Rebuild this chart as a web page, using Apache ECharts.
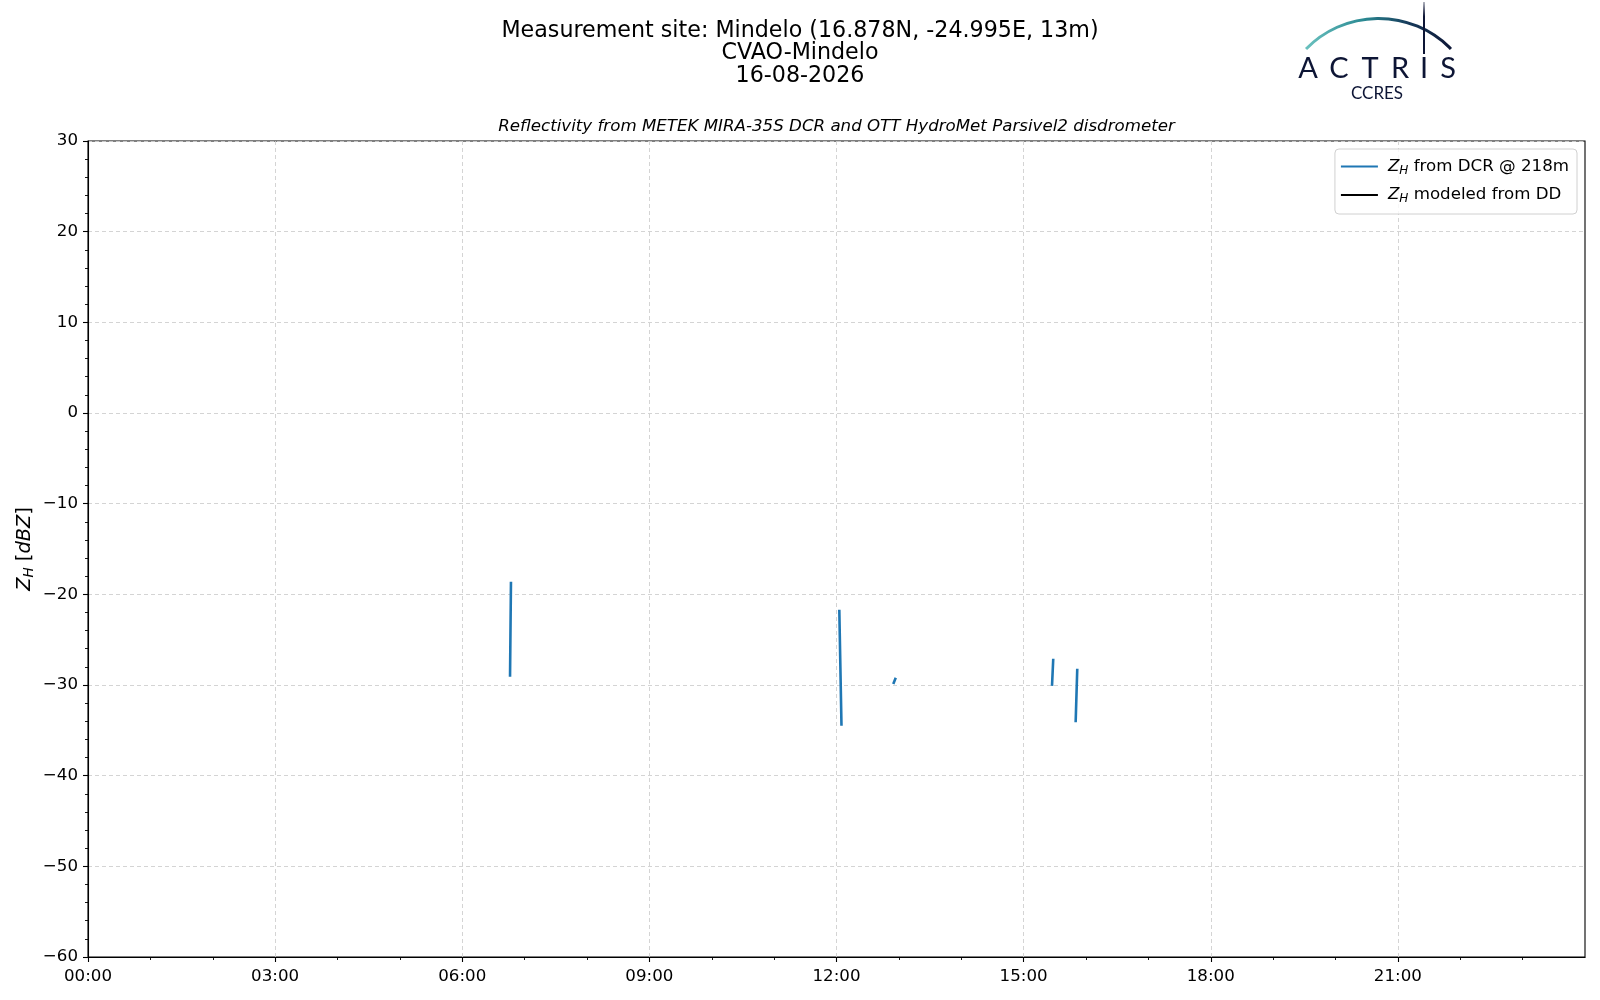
<!DOCTYPE html>
<html>
<head>
<meta charset="utf-8">
<script src="https://cdn.jsdelivr.net/npm/echarts@6/dist/echarts.min.js"></script>
<style>html,body{margin:0;padding:0;background:#fff}#c{width:1600px;height:1000px}</style>
</head>
<body>
<div id="c"></div>
<script>
// ---- data (time in hours of day, reflectivity in dBZ; null = gap) ----
const dcrTime = [6.766, 6.781, 6.79, 12.045, 12.08, 12.09, 12.91, 12.95, 12.96, 15.455, 15.475, 15.48, 15.834, 15.86];
const dcrZh   = [-29.1, -18.6, null, -21.7, -34.5, null, -29.9, -29.2, null, -30.1, -27.1, null, -34.1, -28.2];
const ddTime = [];
const ddZh = [];
const xTicks = [0, 3, 6, 9, 12, 15, 18, 21];
const yTicks = [-60, -50, -40, -30, -20, -10, 0, 10, 20, 30];
const seriesNames = ['Z_H from DCR @ 218m', 'Z_H modeled from DD'];
const titleLines = ['Measurement site: Mindelo (16.878N, -24.995E, 13m)', 'CVAO-Mindelo', '16-08-2026'];
const subtitle = 'Reflectivity from METEK MIRA-35S DCR and OTT HydroMet Parsivel2 disdrometer';

const FONT = 'DejaVu Sans';
const pair = (t, v) => t.map((x, i) => [x, v[i]]);
const pad = n => (n < 10 ? '0' : '') + n;
const minus = s => String(s).replace('-', '\u2212');
const gridLine = {show: true, lineStyle: {color: '#cfcfcf', width: 0.9, type: [4, 3]}};

const chart = echarts.init(document.getElementById('c'), null, {renderer: 'canvas'});
const logoNavy = '#0d1535';
const letters = ['A', 'C', 'T', 'R', 'I', 'S'];
const letterX = [1308, 1339, 1370, 1400, 1424, 1448];
const graphics = [
  {type: 'text', x: 836.5, y: 127, style: {text: subtitle, font: 'italic 16.67px "DejaVu Sans"', fill: '#000', align: 'center', verticalAlign: 'middle'}},
  {type: 'arc', shape: {cx: 1378.5, cy: 119.6, r: 101.2, startAngle: -2.369, endAngle: -0.773, clockwise: true},
   style: {fill: 'none', lineWidth: 3, stroke: new echarts.graphic.LinearGradient(0, 0, 1, 0, [
     {offset: 0, color: '#6cc3c0'}, {offset: 0.4, color: '#2b8a93'}, {offset: 0.7, color: '#163a5a'}, {offset: 1, color: logoNavy}])}},
  {type: 'line', shape: {x1: 1424, y1: 2, x2: 1424, y2: 54},
   style: {lineWidth: 2, stroke: new echarts.graphic.LinearGradient(0, 0, 0, 1, [
     {offset: 0, color: 'rgba(13,21,53,0.2)'}, {offset: 0.3, color: logoNavy}, {offset: 1, color: logoNavy}])}},
  {type: 'text', x: 1377, y: 94, style: {text: 'CCRES', font: '17px Lato', fill: logoNavy, align: 'center', verticalAlign: 'middle'}}
];
letters.forEach((l, i) => graphics.push({type: 'text', x: letterX[i], y: 69,
  style: {text: l, font: '29px Lato', fill: logoNavy, align: 'center', verticalAlign: 'middle'}}));

const legendRich = {
  t: {fontFamily: FONT, fontSize: 16.67, color: '#000'},
  i: {fontFamily: FONT, fontSize: 16.67, fontStyle: 'italic', color: '#000'},
  s: {fontFamily: FONT, fontSize: 12, fontStyle: 'italic', color: '#000', padding: [8, 0, 0, 0]}
};

chart.setOption({
  animation: false,
  backgroundColor: '#fff',
  title: {text: titleLines.join('\n'), left: 'center', top: 14.5,
    textStyle: {fontFamily: FONT, fontSize: 22.2, fontWeight: 'normal', color: '#000', lineHeight: 22.6}},
  graphic: graphics,
  grid: {left: 88, right: 15, top: 141, bottom: 43, show: true, borderColor: '#000', borderWidth: 1.1, backgroundColor: '#fff'},
  legend: {
    orient: 'vertical', right: 23, top: 149, itemGap: 10,
    padding: [9, 8, 9, 6],
    borderColor: '#d0d0d0', borderWidth: 1, borderRadius: 4, backgroundColor: 'rgba(255,255,255,0.8)',
    icon: 'rect', itemWidth: 37, itemHeight: 2.2,
    data: seriesNames,
    formatter: n => n === seriesNames[0] ? '{i|Z}{s|H}{t| from DCR @ 218m}' : '{i|Z}{s|H}{t| modeled from DD}',
    textStyle: {rich: legendRich, padding: [0, 0, 0, 5]}
  },
  xAxis: {
    type: 'value', min: 0, max: 24, interval: 3,
    axisLine: {show: true, onZero: false, lineStyle: {color: '#000', width: 1.1}},
    axisTick: {show: true, length: 5, lineStyle: {color: '#000', width: 1.1}, customValues: xTicks},
    minorTick: {show: true, splitNumber: 3, length: 3, lineStyle: {color: '#000', width: 0.9}},
    axisLabel: {customValues: xTicks, formatter: v => pad(v) + ':00', fontFamily: FONT, fontSize: 16.67, color: '#000', margin: 11},
    splitLine: gridLine
  },
  yAxis: {
    type: 'value', min: -60, max: 30, interval: 10,
    name: '{i|Z}{s|H}{t| [}{i|dBZ}{t|]}', nameLocation: 'middle', nameRotate: 90, nameGap: 52,
    nameMoveOverlap: false,
    nameTextStyle: {rich: {
      t: {fontFamily: FONT, fontSize: 19.4, color: '#000'},
      i: {fontFamily: FONT, fontSize: 19.4, fontStyle: 'italic', color: '#000'},
      s: {fontFamily: FONT, fontSize: 13.6, fontStyle: 'italic', color: '#000', padding: [9, 0, 0, 0]}
    }},
    axisLine: {show: true, onZero: false, lineStyle: {color: '#000', width: 1.1}},
    axisTick: {show: true, length: 5, lineStyle: {color: '#000', width: 1.1}},
    minorTick: {show: true, splitNumber: 5, length: 3, lineStyle: {color: '#000', width: 0.9}},
    axisLabel: {formatter: v => minus(v), fontFamily: FONT, fontSize: 16.67, color: '#000', margin: 10},
    splitLine: gridLine
  },
  series: [
    {name: seriesNames[0], type: 'line', data: pair(dcrTime, dcrZh), showSymbol: false, connectNulls: false,
     color: '#1f77b4', lineStyle: {color: '#1f77b4', width: 2.6}, itemStyle: {color: '#1f77b4'}},
    {name: seriesNames[1], type: 'line', data: pair(ddTime, ddZh), showSymbol: false,
     color: '#000', lineStyle: {color: '#000', width: 2.6}, itemStyle: {color: '#000'}}
  ]
});
</script>
</body>
</html>
